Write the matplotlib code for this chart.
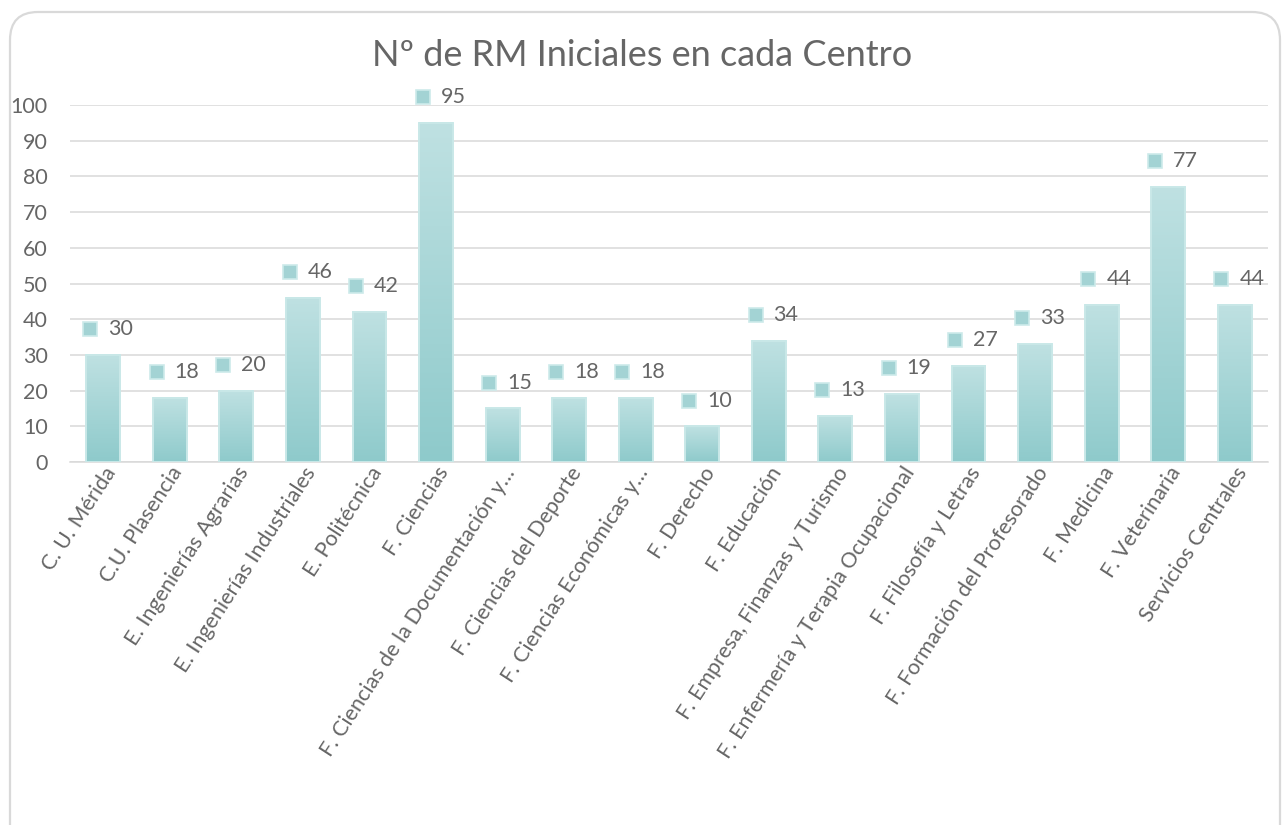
import numpy as np
import matplotlib
matplotlib.use('Agg')
import matplotlib.pyplot as plt
from matplotlib.patches import FancyBboxPatch
from matplotlib.transforms import IdentityTransform, ScaledTranslation
from matplotlib.colors import LinearSegmentedColormap

# Data
centros = [
    'C. U. Mérida', 'C.U. Plasencia', 'E. Ingenierías Agrarias',
    'E. Ingenierías Industriales', 'E. Politécnica', 'F. Ciencias',
    'F. Ciencias de la Documentación y…', 'F. Ciencias del Deporte',
    'F. Ciencias Económicas y…', 'F. Derecho', 'F. Educación',
    'F. Empresa, Finanzas y Turismo', 'F. Enfermería y Terapia Ocupacional',
    'F. Filosofía y Letras', 'F. Formación del Profesorado', 'F. Medicina',
    'F. Veterinaria', 'Servicios Centrales',
]
rm_iniciales = [30, 18, 20, 46, 42, 95, 15, 18, 18, 10, 34, 13, 19, 27, 33, 44, 77, 44]
y_ticks = [0, 10, 20, 30, 40, 50, 60, 70, 80, 90, 100]

plt.rcParams['font.family'] = ['Lato', 'DejaVu Sans']
text_col = '#666666'
grid_col = '#d9d9d9'
top_col = '#bfe1e2'
bot_col = '#8ecacb'
edge_col = '#c9e8e8'

fig = plt.figure(figsize=(12.85, 8.25), dpi=100)
ax = fig.add_axes([70 / 1285, 1 - 462 / 825, 1198 / 1285, (462 - 105) / 825])

# rounded chart-area border
border = FancyBboxPatch((10, -40), 1270, 825 - 12 + 40,
                        boxstyle='round,pad=0,rounding_size=28',
                        transform=IdentityTransform(), facecolor='none',
                        edgecolor='#d9d9d9', linewidth=1.6)
fig.patches.append(border)

x = np.arange(len(centros))
w = 0.51
cmap = LinearSegmentedColormap.from_list('teal', [bot_col, top_col])
grad = np.linspace(0, 1, 256).reshape(-1, 1)

for xi, v in zip(x, rm_iniciales):
    ax.imshow(grad, cmap=cmap, origin='lower', aspect='auto',
              extent=(xi - w / 2, xi + w / 2, 0, v), zorder=2)
ax.bar(x, rm_iniciales, width=w, facecolor='none', edgecolor=edge_col,
       linewidth=1.4, zorder=3)

# data labels with legend key square
for xi, v in zip(x, rm_iniciales):
    ax.plot(xi - 0.2, v + 7.2, marker='s', markersize=9.5, color='#a3d3d4',
            markeredgecolor='#cdeaea', markeredgewidth=1.2,
            clip_on=False, zorder=4)
    ax.text(xi + 0.07, v + 7.2, str(v), ha='left', va='center',
            fontsize=15.5, color=text_col, clip_on=False)

ax.set_xlim(-0.5, len(centros) - 0.5)
ax.set_ylim(0, 100)
ax.set_yticks(y_ticks)
ax.yaxis.grid(True, color=grid_col, linewidth=1.1, zorder=0)
ax.set_axisbelow(True)
for s in ['top', 'right', 'left']:
    ax.spines[s].set_visible(False)
ax.spines['bottom'].set_color(grid_col)
ax.spines['bottom'].set_linewidth(1.1)
ax.tick_params(axis='y', length=0, pad=16, labelsize=15.5, labelcolor=text_col)
ax.tick_params(axis='x', length=0, pad=5, labelsize=15.5, labelcolor=text_col)
ax.set_xticks(x)
ax.set_xticklabels(centros, rotation=57, ha='right', va='center',
                   rotation_mode='anchor')
shift = ScaledTranslation(6 / 72, 0, fig.dpi_scale_trans)
for lbl in ax.get_xticklabels():
    lbl.set_transform(lbl.get_transform() + shift)

fig.text(0.5, 1 - 55 / 825, 'Nº de RM Iniciales en cada Centro', ha='center',
         va='center', fontsize=26, color=text_col)

fig.savefig('out.png', dpi=100, facecolor='white')
